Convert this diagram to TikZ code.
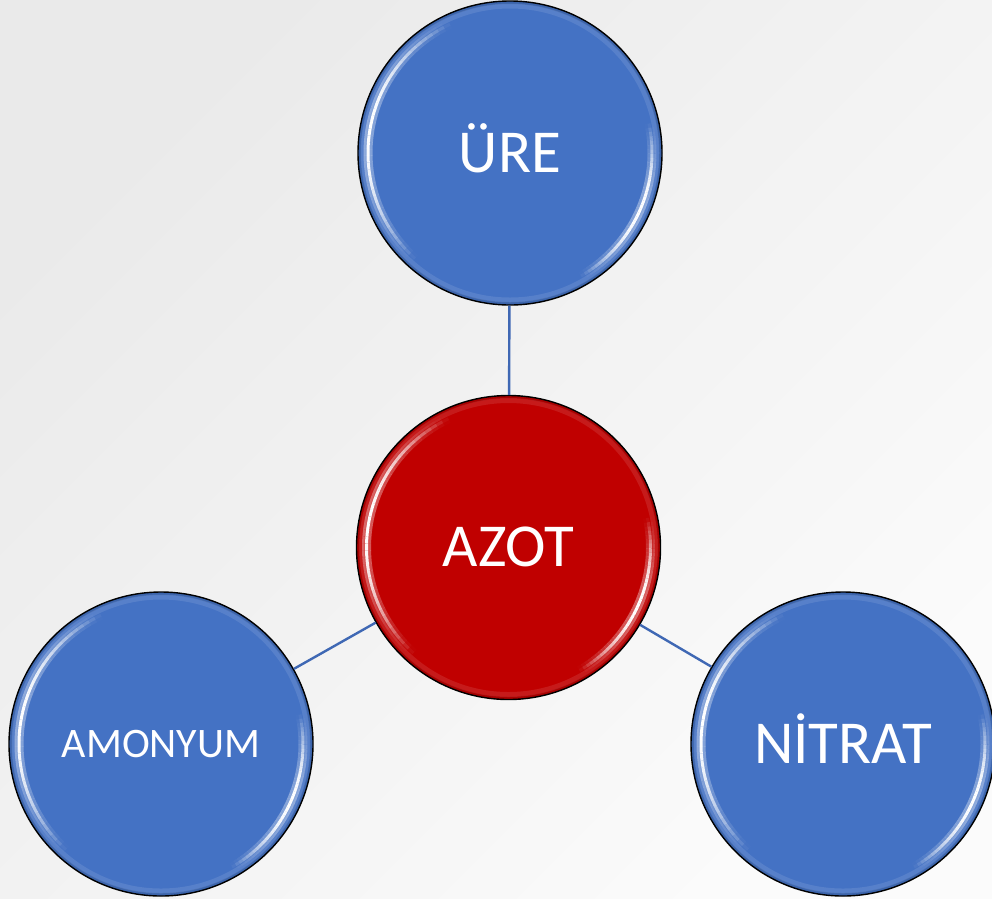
\documentclass[tikz,border=0pt]{standalone}
\usepackage{fontspec}
\setmainfont{Carlito}
\definecolor{ballblue}{HTML}{4472C4}
\definecolor{ballred}{HTML}{C00000}
\definecolor{linkblue}{HTML}{3F68B4}
\definecolor{bgdark}{HTML}{EAEAEA}
\definecolor{bglight}{HTML}{FBFBFB}
% soft white reflection along an arc around (c):
% #1 start angle, #2 end angle, #3 radius, #4 peak opacity
\newcommand\glint[4]{%
  \foreach \t in {0,...,40}{
    \pgfmathsetmacro\aa{#1+(#2-#1)*\t/41}
    \pgfmathsetmacro\bb{#1+(#2-#1)*(\t+1)/41}
    \pgfmathsetmacro\op{#4*(sin(180*(\t+0.5)/41))}
    \pgfmathsetmacro\opg{0.35*\op}
    \draw[white, opacity=\opg, line width=9pt]
      ([shift={(\aa:#3)}]c) arc[start angle=\aa, end angle=\bb, radius=#3];
    \draw[white, opacity=\op, line width=3pt]
      ([shift={(\aa:#3)}]c) arc[start angle=\aa, end angle=\bb, radius=#3];
  }}
\begin{document}
\begin{tikzpicture}[x=1pt,y=-1pt,
  % glossy ball: flat fill, soft rim and two white reflections
  ball/.style={circle, draw=black, line width=1.4pt, fill=#1,
    minimum size=304pt, inner sep=0pt, text=white,
    text height=38pt, text depth=0pt,
    path picture={
      \coordinate (c) at (path picture bounding box.center);
      \draw[black, opacity=0.12, line width=6pt] (c) circle[radius=152pt];
      \draw[white, opacity=0.10, line width=5pt] (c) circle[radius=147pt];
      \glint{115}{228}{142pt}{1}
      \glint{-60}{12}{142pt}{1}
    }},
  big/.style={font=\fontsize{61}{61}\selectfont},
  small/.style={font=\fontsize{42}{42}\selectfont, text height=26.5pt},
  conn/.style={draw=linkblue, line width=2.4pt}
]
% page background
\shade[top color=bgdark, bottom color=bglight, shading angle=45]
  (0,0) rectangle (992,898);
\useasboundingbox (0,0) rectangle (992,898);

\node[ball=ballblue, big]   (ure)     at (510,153) {ÜRE};
\node[ball=ballred, big]    (azot)    at (508.5,547.5) {AZOT};
\node[ball=ballblue, small] (amonyum) at (161,744) {AMONYUM};
\node[ball=ballblue, big]   (nitrat)  at (843,744) {NİTRAT};

\draw[conn] (ure) -- (azot);
\draw[conn] (azot) -- (amonyum);
\draw[conn] (azot) -- (nitrat);
\end{tikzpicture}
\end{document}
